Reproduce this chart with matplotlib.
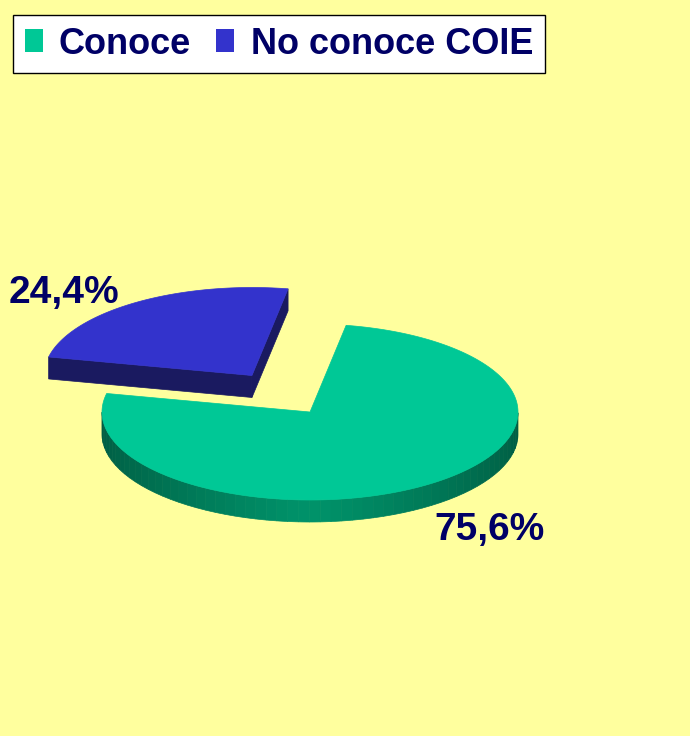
import numpy as np
import matplotlib.pyplot as plt
from matplotlib.patches import Polygon, Patch

# data
labels = ['Conoce', 'No conoce COIE']
values = [75.6, 24.4]
pct_labels = ['75,6%', '24,4%']

top_colors = ['#00C896', '#3333CC']
side_colors = ['#007A58', '#1A1A60']
txt_color = '#000066'

plt.rcParams['font.family'] = ['Liberation Sans', 'DejaVu Sans']

fig = plt.figure(figsize=(6.9, 7.36), dpi=100)
fig.patch.set_facecolor('#FFFF9E')
ax = fig.add_axes([0, 0, 1, 1])
ax.set_xlim(0, 690)
ax.set_ylim(736, 0)
ax.axis('off')

# pseudo-3d pie geometry (pixel space)
cx, cy = 310, 412
rx, ry = 208, 88
depth = 22
start = 80.0
explode = [0.0, 0.5]


def ell(t, c):
    t = np.radians(t)
    return np.column_stack([c[0] + rx * np.cos(t), c[1] - ry * np.sin(t)])


total = sum(values)
# blue slice starts at `start` and goes counter-clockwise, green takes the rest
spans = [v / total * 360 for v in values]
angles = {1: (start, start + spans[1]), 0: (start + spans[1], start + 360)}

# draw blue (further back) first
for i in [1, 0]:
    a0, a1 = angles[i]
    mid = np.radians((a0 + a1) / 2)
    c = (cx + explode[i] * rx * np.cos(mid), cy - explode[i] * ry * np.sin(mid))
    # outer side, visible for angles in 180..360 (mod 360)
    ts = np.linspace(a0, a1, 400)
    vis = ((ts % 360) >= 180)
    if vis.any():
        tv = ts[vis]
        n = 60
        segs = np.linspace(tv.min(), tv.max(), n + 1)
        base = np.array(plt.matplotlib.colors.to_rgb(side_colors[i]))
        for k in range(n):
            tt = np.linspace(segs[k], segs[k + 1], 5)
            top = ell(tt, c)
            bot = top + [0, depth]
            m = np.radians((segs[k] + segs[k + 1]) / 2)
            f = 0.75 + 0.45 * np.sin(-m) * (1 - 0.6 * abs(np.cos(m)))
            col = np.clip(base * f, 0, 1)
            ax.add_patch(Polygon(np.vstack([top, bot[::-1]]), closed=True,
                                 facecolor=col, edgecolor=col, lw=0.5))
    # radial cut faces of the exploded slice
    if explode[i] > 0:
        for a in (a0, a1):
            p = ell([a], c)[0]
            quad = [c, p, (p[0], p[1] + depth), (c[0], c[1] + depth)]
            ax.add_patch(Polygon(quad, closed=True, facecolor=side_colors[i],
                                 edgecolor=side_colors[i], lw=0.5))
    arc = ell(np.linspace(a0, a1, 200), c)
    ax.add_patch(Polygon(np.vstack([[c], arc]), closed=True,
                         facecolor=top_colors[i], edgecolor=top_colors[i], lw=0.5,
                         label=labels[i]))

ax.text(119, 293, pct_labels[1], ha='right', va='center', fontsize=28,
        fontweight='bold', color=txt_color)
ax.text(434, 530, pct_labels[0], ha='left', va='center', fontsize=28,
        fontweight='bold', color=txt_color)

handles = [Patch(facecolor=top_colors[k], edgecolor='none', label=labels[k]) for k in range(2)]
leg = ax.legend(handles=handles, loc='upper left', bbox_to_anchor=(13 / 690, 1 - 15 / 736),
                ncol=2, frameon=True, fancybox=False, edgecolor='black', framealpha=1,
                prop={'weight': 'bold', 'size': 26}, labelcolor=txt_color,
                handlelength=0.5, handleheight=0.6, handletextpad=0.45, columnspacing=0.7,
                borderpad=0.32, borderaxespad=0)
leg.get_frame().set_linewidth(1.0)

fig.savefig('out.png', dpi=100, facecolor=fig.get_facecolor())
